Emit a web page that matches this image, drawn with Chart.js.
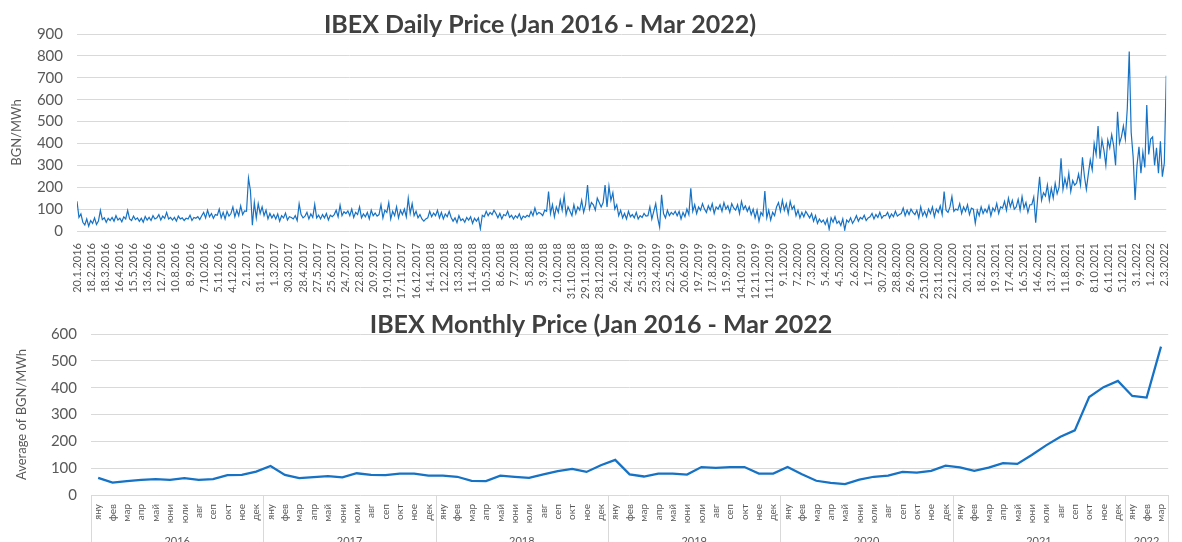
<!DOCTYPE html>
<html>
<head>
<meta charset="utf-8">
<script src="https://cdn.jsdelivr.net/npm/chart.js@4.4.0/dist/chart.umd.min.js"></script>
<style>
  body { margin: 0; background: #fff; width: 1182px; height: 542px; overflow: hidden; position: relative; }
  #daily { position: absolute; left: 0; top: 0; width: 1182px; height: 300px; }
  #monthly { position: absolute; left: 0; top: 300px; width: 1182px; height: 260px; }
</style>
</head>
<body>
<div id="daily"><canvas id="dailyChart"></canvas></div>
<div id="monthly"><canvas id="monthlyChart"></canvas></div>
<script>
// daily price, one reading every 4 days starting 20.1.2016 (BGN/MWh)
var price2016 = [136, 62, 78,
  40, 28, 55, 22, 48, 35, 60, 30,
  45, 94, 52, 60, 40, 58, 48,
  62, 45, 70, 50, 58, 42, 65, 55,
  94, 55, 48, 68, 52, 60, 44,
  58, 40, 66, 50, 62, 48, 70, 55,
  60, 75, 50, 68, 58, 85, 55, 62,
  50, 62, 45, 68, 55, 60, 48, 58,
  55, 72, 48, 62, 58, 66, 52,
  70, 85, 60, 95, 65, 80, 58, 75,
  72, 100, 60, 85, 55, 90, 68,
  80, 110, 65, 95, 70, 115, 75, 92];
var price2017 = [90, 242, 185, 26, 130, 60, 125, 80,
  110, 70, 95, 55, 80, 60, 75,
  55, 78, 45, 70, 60, 82, 50, 65,
  62, 55, 70, 48, 124, 75, 60,
  68, 85, 55, 78, 62, 122, 60, 72,
  55, 75, 60, 80, 50, 72, 65,
  75, 95, 65, 118, 70, 88, 80, 92,
  70, 100, 62, 85, 75, 110, 60, 78,
  65, 85, 55, 95, 70, 82, 68,
  75, 120, 60, 95, 85, 130, 55, 90,
  70, 110, 60, 95, 75, 100, 65, 150,
  80, 125, 70, 90, 60, 75, 55];
var price2018 = [45, 55, 60, 90, 65, 82, 70, 95,
  60, 85, 55, 78, 65, 90, 62,
  45, 60, 38, 70, 48, 55, 40, 62,
  50, 65, 35, 58, 45, 60, 10,
  72, 65, 90, 70, 85, 75, 95, 80,
  60, 80, 55, 75, 70, 90, 62, 72,
  55, 70, 60, 78, 52, 68, 62, 72,
  65, 90, 70, 105, 75, 85, 80,
  70, 95, 90, 180, 80, 120, 65, 110,
  85, 140, 95, 160, 75, 110, 90,
  70, 120, 80, 110, 95, 140, 85, 120,
  210, 100, 130, 120, 95, 150, 130, 110];
var price2019 = [130, 210, 110, 205, 140, 175, 100, 120,
  70, 95, 60, 80, 55, 90, 65,
  75, 60, 85, 55, 70, 62, 80, 68,
  70, 110, 55, 90, 125, 60, 18,
  165, 80, 60, 95, 70, 85, 75, 90,
  70, 90, 55, 85, 65, 100, 75,
  195, 90, 120, 80, 110, 95, 125, 100,
  85, 115, 95, 125, 80, 110, 100, 120,
  90, 130, 100, 115, 85, 125, 105,
  95, 120, 80, 135, 100, 115, 90, 110,
  75, 100, 60, 95, 45, 85, 70,
  183, 60, 95, 50, 85, 70, 110, 130];
var price2020 = [90, 140, 95, 125, 80, 135, 100, 115,
  70, 95, 60, 85, 65, 90, 75,
  60, 80, 45, 70, 35, 55, 40, 50,
  30, 55, 8, 60, 40, 65, 35,
  45, 25, 55, 5, 50, 40, 60, 35,
  50, 70, 45, 62, 55, 72, 48, 60,
  65, 80, 55, 75, 62, 85, 58, 70,
  70, 85, 60, 78, 65, 90, 68, 75,
  80, 105, 70, 95, 75, 100, 85,
  75, 95, 60, 110, 70, 90, 65, 100,
  80, 110, 65, 100, 85, 115, 75,
  180, 95, 85, 110, 157, 90, 100];
var price2021 = [95, 125, 80, 110, 90, 120, 75, 105,
  100, 35, 95, 70, 110, 80, 100,
  85, 115, 70, 105, 90, 126, 80, 110,
  105, 135, 95, 150, 110, 140, 100,
  110, 145, 95, 157, 105, 130, 85, 120,
  120, 155, 38, 150, 248, 140, 175,
  160, 210, 140, 195, 150, 218, 170, 200,
  332, 190, 240, 200, 264, 180, 230, 210,
  220, 260, 210, 337, 250, 190, 260,
  325, 280, 400, 350, 480, 330, 416, 370,
  300, 416, 380, 440, 390, 300, 545, 400,
  430, 480, 420, 560, 820, 450, 340, 142];
var price2022 = [300, 385, 264, 360, 290, 576, 350, 420,
  430, 300, 380, 264, 410, 248, 310,
  709];

// monthly average (BGN/MWh)
var monthNames = ['яну', 'фев', 'мар', 'апр', 'май', 'юни', 'юли', 'авг', 'сеп', 'окт', 'ное', 'дек'];
var years = ['2016', '2017', '2018', '2019', '2020', '2021', '2022'];
var avg2016 = [64, 46, 52, 56, 59, 56, 63, 56, 59, 74, 75, 87];
var avg2017 = [108, 75, 63, 67, 70, 66, 81, 75, 74, 80, 80, 72];
var avg2018 = [72, 68, 53, 52, 72, 68, 64, 77, 89, 97, 86, 111];
var avg2019 = [131, 77, 69, 80, 80, 76, 104, 101, 104, 104, 80, 80];
var avg2020 = [104, 77, 53, 45, 41, 57, 68, 72, 86, 83, 90, 109];
var avg2021 = [103, 90, 102, 119, 116, 149, 185, 217, 241, 365, 402, 425];
var avg2022 = [369, 363, 553];

var STEP = 4;        // days between daily readings
var LABEL_EVERY = 29; // days between date labels

var grey = '#595959';
var gridGrey = '#d9d9d9';
var lineBlue = '#1672c4';
var fontFam = 'Lato, "Noto Sans", sans-serif';

var titlePlugin = {
    id: 'pageTitle',
    afterDraw: function(chart, args, opts) {
        var c = chart.ctx;
        c.save();
        c.font = 'bold 25px ' + fontFam;
        c.fillStyle = '#404040';
        c.textAlign = 'center';
        c.textBaseline = 'alphabetic';
        c.fillText(opts.text, opts.x, opts.y);
        c.restore();
    }
};

function fmtDate(day) {
    var d = new Date(2016, 0, 20 + day);
    return d.getDate() + '.' + (d.getMonth() + 1) + '.' + d.getFullYear();
}

// ---------- daily chart ----------
var daily = [].concat(price2016, price2017, price2018, price2019, price2020, price2021, price2022);
var dailyPoints = daily.map(function(v, i) { return { x: i * STEP, y: v }; });

new Chart(document.getElementById('dailyChart'), {
    type: 'line',
    data: {
        datasets: [{
            label: 'BGN/MWh',
            data: dailyPoints,
            borderColor: lineBlue,
            borderWidth: 1.2,
            pointRadius: 0,
            tension: 0
        }]
    },
    options: {
        responsive: true,
        maintainAspectRatio: false,
        animation: false,
        layout: { padding: { top: 34, right: 4, left: 0, bottom: 0 } },
        plugins: {
            legend: { display: false },
            tooltip: { enabled: false },
            pageTitle: { text: 'IBEX Daily Price (Jan 2016 - Mar 2022)', x: 540, y: 33 }
        },
        scales: {
            x: {
                type: 'linear',
                min: 0,
                max: (daily.length - 1) * STEP,
                afterBuildTicks: function(s) {
                    var t = [];
                    for (var d = 0; d <= s.max; d += LABEL_EVERY) t.push({ value: d });
                    s.ticks = t;
                },
                afterFit: function(s) { s.height = 69; },
                ticks: {
                    autoSkip: false, minRotation: 90, maxRotation: 90,
                    color: grey, font: { size: 11, family: fontFam }, padding: 4,
                    callback: function(v) { return fmtDate(v); }
                },
                grid: { display: false },
                border: { display: false }
            },
            y: {
                min: 0, max: 900,
                afterFit: function(s) { s.width = 77; },
                ticks: { stepSize: 100, color: grey, font: { size: 15, family: fontFam }, padding: 14 },
                grid: { color: gridGrey, drawTicks: false, lineWidth: 1 },
                border: { display: false },
                title: { display: true, text: 'BGN/MWh', color: grey, font: { size: 13, family: fontFam }, padding: { top: 9, bottom: 2 } }
            }
        }
    },
    plugins: [titlePlugin]
});

// ---------- monthly chart ----------
var monthly = [].concat(avg2016, avg2017, avg2018, avg2019, avg2020, avg2021, avg2022);
var yearGroups = [avg2016, avg2017, avg2018, avg2019, avg2020, avg2021, avg2022];
var monthLabels = [];
var yearBounds = [-0.5];
var yearMids = [];
yearGroups.forEach(function(g) {
    var start = monthLabels.length;
    g.forEach(function(v, i) { monthLabels.push(monthNames[i]); });
    yearMids.push((start - 0.5 + monthLabels.length - 0.5) / 2);
    yearBounds.push(monthLabels.length - 0.5);
});

var yearLinesPlugin = {
    id: 'yearLines',
    afterDraw: function(chart) {
        var xs = chart.scales.x;
        var c = chart.ctx;
        c.save();
        c.strokeStyle = gridGrey;
        c.lineWidth = 1;
        yearBounds.forEach(function(b) {
            var px = Math.round(xs.getPixelForValue(b)) + 0.5;
            c.beginPath();
            c.moveTo(px, chart.chartArea.bottom);
            c.lineTo(px, chart.height);
            c.stroke();
        });
        c.restore();
    }
};

new Chart(document.getElementById('monthlyChart'), {
    type: 'line',
    data: {
        labels: monthLabels,
        datasets: [{
            label: 'Average of BGN/MWh',
            data: monthly,
            borderColor: lineBlue,
            borderWidth: 2.25,
            pointRadius: 0,
            tension: 0,
            xAxisID: 'x'
        }]
    },
    options: {
        responsive: true,
        maintainAspectRatio: false,
        animation: false,
        layout: { padding: { top: 34, right: 2, left: 0, bottom: 0 } },
        plugins: {
            legend: { display: false },
            tooltip: { enabled: false },
            pageTitle: { text: 'IBEX Monthly Price (Jan 2016 - Mar 2022', x: 601, y: 33 }
        },
        scales: {
            x: {
                type: 'category',
                offset: true,
                afterFit: function(s) { s.height = 36; },
                ticks: {
                    autoSkip: false, minRotation: 90, maxRotation: 90,
                    color: grey, font: { size: 10, family: fontFam }, padding: 9
                },
                grid: { display: false, drawTicks: false },
                border: { display: false }
            },
            x2: {
                type: 'linear',
                position: 'bottom',
                min: -0.5,
                max: monthly.length - 0.5,
                afterBuildTicks: function(s) {
                    s.ticks = yearMids.map(function(v) { return { value: v }; });
                },
                afterFit: function(s) { s.height = 29; },
                ticks: {
                    autoSkip: false, maxRotation: 0, color: grey,
                    font: { size: 11, family: fontFam }, padding: 4,
                    callback: function(v, i) { return years[i]; }
                },
                grid: { display: false, drawTicks: false },
                border: { display: false }
            },
            y: {
                min: 0, max: 600,
                afterFit: function(s) { s.width = 91; },
                ticks: { stepSize: 100, color: grey, font: { size: 15, family: fontFam }, padding: 14 },
                grid: { color: gridGrey, drawTicks: false, lineWidth: 1 },
                border: { display: false },
                title: { display: true, text: 'Average of BGN/MWh', color: grey, font: { size: 13, family: fontFam }, padding: { top: 14, bottom: 2 } }
            }
        }
    },
    plugins: [titlePlugin, yearLinesPlugin]
});
</script>
</body>
</html>
